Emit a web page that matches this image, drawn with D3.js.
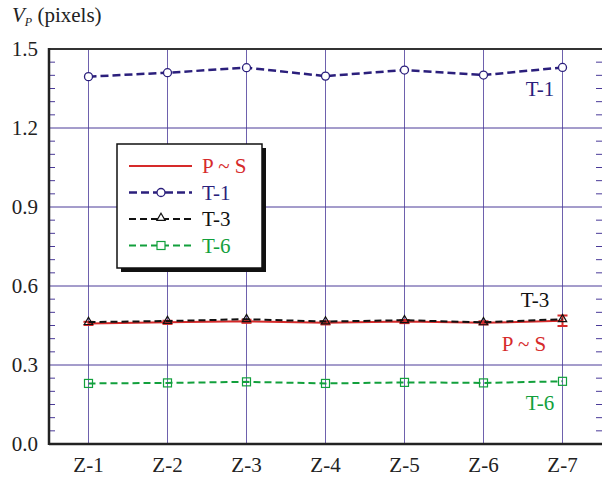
<!DOCTYPE html>
<html>
<head>
<meta charset="utf-8">
<script src="https://cdn.jsdelivr.net/npm/d3@7"></script>
<style>
  body { margin: 0; background: #fff; }
</style>
</head>
<body>
<div id="chart"></div>
<script>
// categories and series values
const zones = ["Z-1", "Z-2", "Z-3", "Z-4", "Z-5", "Z-6", "Z-7"];
const yTicks = [0.0, 0.3, 0.6, 0.9, 1.2, 1.5];
const valsT1 = [1.395, 1.410, 1.429, 1.397, 1.420, 1.401, 1.430];
const valsT3 = [0.463, 0.467, 0.474, 0.465, 0.470, 0.462, 0.474];
const valsPS = [0.458, 0.462, 0.466, 0.460, 0.465, 0.460, 0.468];
const errPS  = [0.006, 0.006, 0.006, 0.006, 0.006, 0.006, 0.020];
const valsT6 = [0.230, 0.232, 0.236, 0.230, 0.234, 0.232, 0.238];

const W = 602, H = 479;
const m = { left: 49, right: 0, top: 49, bottom: 35 };
const serif = "Liberation Serif";

const navy = "#2b1f7c", red = "#d62a2a", green = "#12a03c", grid = "#4a3a98";

const svg = d3.select("#chart").append("svg")
    .attr("width", W).attr("height", H)
    .style("font-family", serif);

const x = d3.scaleLinear().domain([0.5, 7.5]).range([m.left, W - m.right]);
const y = d3.scaleLinear().domain([0, 1.5]).range([H - m.bottom, m.top]);

// grid lines
svg.append("g").selectAll("line.h")
    .data(yTicks.slice(1, -1))
    .enter().append("line")
    .attr("x1", m.left).attr("x2", W)
    .attr("y1", d => y(d)).attr("y2", d => y(d))
    .attr("stroke", grid).attr("stroke-width", 1);

svg.append("g").selectAll("line.v")
    .data(zones)
    .enter().append("line")
    .attr("x1", (d, i) => x(i + 1)).attr("x2", (d, i) => x(i + 1))
    .attr("y1", y(1.5)).attr("y2", y(0))
    .attr("stroke", grid).attr("stroke-width", 1).attr("stroke-opacity", 0.8);

// minor ticks left and right
const minor = d3.range(0, 1.5001, 0.05).filter(v => Math.abs(v * 10 / 3 - Math.round(v * 10 / 3)) > 0.01);
svg.append("g").selectAll("line")
    .data(minor)
    .enter().append("line")
    .attr("x1", m.left).attr("x2", m.left + 6)
    .attr("y1", d => y(d)).attr("y2", d => y(d))
    .attr("stroke", grid).attr("stroke-width", 1);
svg.append("g").selectAll("line")
    .data(minor)
    .enter().append("line")
    .attr("x1", W - 6).attr("x2", W)
    .attr("y1", d => y(d)).attr("y2", d => y(d))
    .attr("stroke", grid).attr("stroke-width", 1);

// frame
svg.append("line").attr("x1", m.left).attr("x2", W).attr("y1", y(1.5)).attr("y2", y(1.5))
    .attr("stroke", "#333").attr("stroke-width", 2);
svg.append("line").attr("x1", m.left).attr("x2", W).attr("y1", y(0)).attr("y2", y(0))
    .attr("stroke", "#222").attr("stroke-width", 2.5);
svg.append("line").attr("x1", m.left).attr("x2", m.left).attr("y1", y(1.5) - 1).attr("y2", y(0) + 1)
    .attr("stroke", "#222").attr("stroke-width", 2.5);

// axis labels
svg.append("g").selectAll("text")
    .data(yTicks)
    .enter().append("text")
    .attr("x", 38).attr("y", d => y(d) + 7)
    .attr("text-anchor", "end").attr("font-size", 21).attr("fill", "#222")
    .text(d => d.toFixed(1));

svg.append("g").selectAll("text")
    .data(zones)
    .enter().append("text")
    .attr("x", (d, i) => x(i + 1)).attr("y", 472)
    .attr("text-anchor", "middle").attr("font-size", 21).attr("fill", "#222")
    .text(d => d);

// title
const title = svg.append("text").attr("x", 12).attr("y", 22).attr("font-size", 21).attr("fill", "#222");
title.append("tspan").attr("font-style", "italic").text("V");
title.append("tspan").attr("font-style", "italic").attr("font-size", 12).attr("dy", 4).text("P");
title.append("tspan").attr("dy", -4).text(" (pixels)");

const line = d3.line().x((d, i) => x(i + 1)).y(d => y(d));

// T-6
svg.append("path").datum(valsT6).attr("d", line)
    .attr("fill", "none").attr("stroke", green).attr("stroke-width", 2).attr("stroke-dasharray", "7,4");
svg.append("g").selectAll("rect").data(valsT6).enter().append("rect")
    .attr("x", (d, i) => x(i + 1) - 4).attr("y", d => y(d) - 4)
    .attr("width", 8).attr("height", 8)
    .attr("fill", "none").attr("stroke", green).attr("stroke-width", 1.2);

// P ~ S with error bars
svg.append("path").datum(valsPS).attr("d", line)
    .attr("fill", "none").attr("stroke", red).attr("stroke-width", 2);
const eb = svg.append("g").selectAll("g").data(valsPS).enter().append("g");
eb.append("line")
    .attr("x1", (d, i) => x(i + 1)).attr("x2", (d, i) => x(i + 1))
    .attr("y1", (d, i) => y(d - errPS[i])).attr("y2", (d, i) => y(d + errPS[i]))
    .attr("stroke", red).attr("stroke-width", 2);
eb.append("line")
    .attr("x1", (d, i) => x(i + 1) - 5).attr("x2", (d, i) => x(i + 1) + 5)
    .attr("y1", (d, i) => y(d - errPS[i])).attr("y2", (d, i) => y(d - errPS[i]))
    .attr("stroke", red).attr("stroke-width", 2);
eb.append("line")
    .attr("x1", (d, i) => x(i + 1) - 5).attr("x2", (d, i) => x(i + 1) + 5)
    .attr("y1", (d, i) => y(d + errPS[i])).attr("y2", (d, i) => y(d + errPS[i]))
    .attr("stroke", red).attr("stroke-width", 2);

// T-3
svg.append("path").datum(valsT3).attr("d", line)
    .attr("fill", "none").attr("stroke", "#111").attr("stroke-width", 2).attr("stroke-dasharray", "7,4");
const tri = d3.symbol().type(d3.symbolTriangle).size(30);
svg.append("g").selectAll("path").data(valsT3).enter().append("path")
    .attr("d", tri)
    .attr("transform", (d, i) => `translate(${x(i + 1)},${y(d)})`)
    .attr("fill", "none").attr("stroke", "#111").attr("stroke-width", 1.2);

// T-1
svg.append("path").datum(valsT1).attr("d", line)
    .attr("fill", "none").attr("stroke", navy).attr("stroke-width", 2.5).attr("stroke-dasharray", "8,4");
svg.append("g").selectAll("circle").data(valsT1).enter().append("circle")
    .attr("cx", (d, i) => x(i + 1)).attr("cy", d => y(d)).attr("r", 4)
    .attr("fill", "#fff").attr("stroke", navy).attr("stroke-width", 1.3);

// series labels
const lab = [
    { t: "T-1", c: navy, x: 540, y: 96 },
    { t: "T-3", c: "#111", x: 535, y: 307 },
    { t: "P ~ S", c: red, x: 524, y: 351 },
    { t: "T-6", c: green, x: 540, y: 410 }
];
svg.append("g").selectAll("text").data(lab).enter().append("text")
    .attr("x", d => d.x).attr("y", d => d.y)
    .attr("text-anchor", "middle").attr("font-size", 21).attr("fill", d => d.c)
    .text(d => d.t);

// legend
const lg = svg.append("g").attr("transform", "translate(117,144)");
lg.append("rect").attr("x", 4).attr("y", 4).attr("width", 145).attr("height", 124).attr("fill", "#111");
lg.append("rect").attr("x", 0).attr("y", 0).attr("width", 145).attr("height", 124)
    .attr("fill", "#fff").attr("stroke", "#111").attr("stroke-width", 1.5);

const items = [
    { t: "P ~ S", c: red, w: 2, dash: null, mk: null },
    { t: "T-1", c: navy, w: 2.5, dash: "8,4", mk: "circle" },
    { t: "T-3", c: "#111", w: 2, dash: "7,4", mk: "tri" },
    { t: "T-6", c: green, w: 2, dash: "7,4", mk: "square" }
];
const row = lg.selectAll("g").data(items).enter().append("g")
    .attr("transform", (d, i) => `translate(0,${22 + i * 26.5})`);
row.append("line").attr("x1", 12).attr("x2", 75).attr("y1", 0).attr("y2", 0)
    .attr("stroke", d => d.c).attr("stroke-width", d => d.w)
    .attr("stroke-dasharray", d => d.dash);
row.filter(d => d.mk === "circle").append("circle")
    .attr("cx", 44).attr("cy", 0).attr("r", 4)
    .attr("fill", "#fff").attr("stroke", navy).attr("stroke-width", 1.3);
row.filter(d => d.mk === "tri").append("path")
    .attr("d", tri).attr("transform", "translate(44,-1)")
    .attr("fill", "#fff").attr("stroke", "#111").attr("stroke-width", 1.2);
row.filter(d => d.mk === "square").append("rect")
    .attr("x", 40).attr("y", -4).attr("width", 8).attr("height", 8)
    .attr("fill", "#fff").attr("stroke", green).attr("stroke-width", 1.2);
row.append("text").attr("x", 85).attr("y", 7)
    .attr("font-size", 21).attr("fill", d => d.c)
    .text(d => d.t);
</script>
</body>
</html>
